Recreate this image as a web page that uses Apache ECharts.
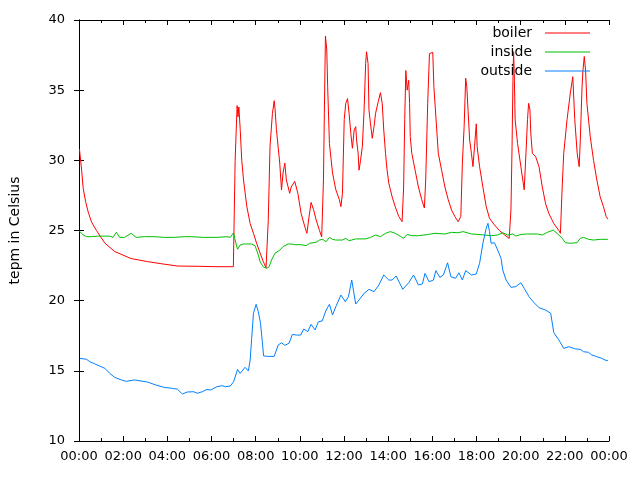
<!DOCTYPE html>
<html>
<head>
<meta charset="utf-8">
<script src="https://cdn.jsdelivr.net/npm/echarts@6/dist/echarts.min.js"></script>
<style>
html,body{margin:0;padding:0;background:#fff;}
#chart{width:640px;height:480px;}
</style>
</head>
<body>
<div id="chart"></div>
<script>
// x values are hours of the day (0..24)
const xTicks = [0,2,4,6,8,10,12,14,16,18,20,22,24];
const yTicks = [10,15,20,25,30,35,40];
const seriesNames = ['boiler','inside','outside'];

const boiler = [
[0.02,30.8],[0.12,29.3],[0.19,28.0],[0.30,27.05],[0.42,26.3],[0.57,25.6],[0.79,25.0],[1.17,24.1],[1.62,23.5],[2.36,23.0],[3.11,22.78],[3.86,22.6],[4.45,22.47],[5.35,22.45],[6.25,22.42],[6.99,22.42],
[7.07,30.0],[7.16,33.9],[7.20,33.1],[7.24,33.8],[7.30,32.2],[7.37,30.0],[7.45,28.6],[7.60,26.7],[7.75,25.5],[7.90,24.8],[8.04,24.1],[8.20,23.4],[8.34,22.8],[8.47,22.35],
[8.57,25.7],[8.65,31.0],[8.76,33.35],[8.84,34.25],[8.88,33.6],[8.94,32.2],[9.09,29.8],[9.17,27.9],[9.24,29.1],[9.32,29.8],[9.39,28.6],[9.47,28.1],[9.54,27.65],[9.61,28.1],[9.77,28.5],[9.84,28.6],[9.91,27.65],[10.06,26.2],[10.22,25.3],[10.32,24.8],[10.41,25.9],[10.51,27.0],[10.62,26.5],[10.74,25.75],[10.89,25.0],[10.99,24.55],
[11.07,28.6],[11.11,33.35],[11.16,38.86],[11.22,37.86],[11.26,35.25],[11.34,31.2],[11.48,29.1],[11.63,27.9],[11.79,27.2],[11.86,26.7],[11.93,27.65],[12.01,32.9],[12.08,34.06],[12.16,34.4],[12.23,33.35],[12.31,31.9],[12.38,30.86],[12.46,32.16],[12.53,32.4],[12.57,31.45],[12.64,30.5],[12.68,29.3],[12.75,30.0],[12.83,30.97],
[12.91,33.6],[12.98,36.9],[13.02,37.74],[13.09,36.9],[13.13,33.6],[13.20,32.6],[13.28,31.57],[13.36,32.4],[13.43,33.35],[13.55,34.18],[13.65,34.82],[13.73,34.06],[13.80,32.16],[13.88,30.5],[13.95,29.3],[14.03,28.36],[14.18,27.4],[14.32,26.7],[14.48,26.0],[14.63,25.63],
[14.70,28.1],[14.75,32.9],[14.80,36.4],[14.86,35.0],[14.93,35.7],[14.97,34.06],[15.00,31.7],[15.07,30.5],[15.22,29.3],[15.37,28.1],[15.52,27.2],[15.64,26.6],[15.70,28.6],[15.79,34.06],[15.87,37.6],[16.02,37.7],[16.07,35.25],[16.20,32.16],[16.27,30.5],[16.42,29.3],[16.57,28.1],[16.72,27.2],[16.87,26.46],[17.02,26.0],[17.17,25.63],
[17.29,26.0],[17.36,29.8],[17.44,32.4],[17.51,35.85],[17.56,35.25],[17.62,33.5],[17.69,31.45],[17.77,30.5],[17.84,29.55],[17.91,30.97],[17.99,32.6],[18.03,30.97],[18.14,29.55],[18.29,28.1],[18.44,26.7],[18.59,25.87],[18.81,25.4],[19.04,25.0],[19.26,24.7],[19.48,24.44],
[19.56,26.46],[19.61,30.97],[19.65,35.7],[19.68,37.74],[19.71,36.2],[19.75,32.9],[19.86,31.2],[20.01,29.55],[20.16,27.9],[20.24,30.5],[20.31,32.9],[20.36,34.06],[20.42,33.6],[20.46,31.9],[20.53,30.5],[20.68,30.26],[20.83,29.55],[20.98,28.1],[21.13,26.9],[21.28,26.2],[21.50,25.5],[21.73,25.0],[21.80,24.8],
[21.88,28.1],[21.95,30.5],[22.10,32.9],[22.25,34.8],[22.36,35.96],[22.45,32.9],[22.56,30.5],[22.65,29.55],[22.70,31.45],[22.78,35.25],[22.82,36.4],[22.88,37.4],[22.94,36.4],[23.00,34.06],[23.15,31.7],[23.30,30.0],[23.45,28.6],[23.60,27.4],[23.75,26.7],[23.87,26.0],[23.95,25.8]
];

const inside = [
[0.02,24.95],[0.19,24.68],[0.34,24.56],[0.57,24.56],[0.87,24.6],[1.39,24.6],[1.54,24.51],[1.69,24.87],[1.84,24.51],[2.06,24.51],[2.36,24.8],[2.59,24.51],[2.96,24.56],[3.41,24.56],[3.86,24.51],[4.31,24.51],[4.76,24.56],[5.06,24.56],[5.65,24.51],[6.25,24.51],[6.70,24.56],[6.85,24.51],
[7.00,24.84],[7.07,24.32],[7.18,23.66],[7.30,23.97],[7.45,24.04],[7.60,24.04],[7.82,24.04],[7.97,23.92],[8.04,23.61],[8.12,23.25],[8.20,22.78],[8.34,22.42],[8.49,22.3],[8.61,22.42],[8.72,22.9],[8.87,23.37],[9.09,23.6],[9.24,23.85],[9.47,24.04],[9.61,24.04],[9.77,23.99],[10.06,23.99],[10.29,23.92],[10.44,24.09],[10.74,24.16],[10.89,24.32],[11.04,24.37],
[11.19,24.2],[11.34,24.51],[11.48,24.37],[11.63,24.32],[11.93,24.32],[12.08,24.44],[12.23,24.27],[12.53,24.4],[12.98,24.4],[13.20,24.51],[13.43,24.68],[13.65,24.56],[13.88,24.8],[14.10,24.92],[14.32,24.8],[14.54,24.6],[14.70,24.44],[14.86,24.72],[15.07,24.63],[15.37,24.63],[15.82,24.72],[16.12,24.8],[16.57,24.75],[16.87,24.87],[17.17,24.84],[17.40,24.92],[17.77,24.75],[18.07,24.72],
[18.66,24.63],[18.96,24.68],[19.19,24.84],[19.41,24.68],[19.64,24.75],[19.78,24.6],[20.01,24.72],[20.31,24.75],[20.76,24.75],[20.98,24.68],[21.21,24.87],[21.48,25.03],[21.73,24.68],[21.88,24.44],[22.03,24.13],[22.25,24.09],[22.55,24.13],[22.70,24.44],[22.85,24.51],[23.07,24.37],[23.30,24.32],[23.60,24.37],[23.95,24.37]
];

const outside = [
[0.04,15.89],[0.34,15.82],[0.49,15.65],[0.72,15.49],[0.94,15.34],[1.17,15.18],[1.39,14.82],[1.62,14.53],[1.92,14.35],[2.14,14.25],[2.51,14.35],[3.11,14.2],[3.48,13.99],[3.86,13.82],[4.23,13.75],[4.45,13.7],[4.68,13.35],[4.90,13.49],[5.20,13.51],[5.35,13.4],[5.58,13.51],[5.80,13.68],[5.95,13.63],[6.25,13.87],[6.47,13.94],[6.63,13.87],[6.85,13.92],
[7.00,14.22],[7.18,15.1],[7.30,14.82],[7.52,15.25],[7.67,14.99],[7.75,15.77],[7.82,17.32],[7.90,19.1],[8.02,19.74],[8.12,19.21],[8.22,18.39],[8.30,17.08],[8.36,16.06],[8.57,16.03],[8.84,16.03],[9.02,16.84],[9.17,17.0],[9.32,16.82],[9.51,16.96],[9.66,17.6],[9.84,17.55],[10.04,17.55],[10.18,17.98],[10.36,17.79],[10.51,18.31],[10.69,17.91],[10.84,18.5],[11.01,18.55],
[11.19,19.33],[11.34,19.74],[11.48,18.98],[11.63,19.57],[11.86,20.4],[12.06,19.93],[12.20,20.28],[12.35,21.47],[12.53,19.76],[12.68,20.05],[12.91,20.52],[13.13,20.81],[13.36,20.64],[13.58,21.12],[13.80,21.83],[14.03,21.47],[14.18,21.47],[14.36,21.76],[14.66,20.81],[14.93,21.28],[15.15,21.83],[15.37,21.12],[15.55,21.19],[15.67,21.95],[15.85,21.35],[16.05,21.47],[16.16,22.14],[16.34,21.66],[16.50,21.83],[16.69,22.7],[16.84,21.71],[17.05,21.59],[17.20,21.99],[17.36,21.47],[17.51,22.14],[17.77,21.83],[17.99,21.9],
[18.14,22.66],[18.29,24.09],[18.44,25.15],[18.52,25.51],[18.59,24.92],[18.66,24.09],[18.81,24.13],[18.96,23.61],[19.11,23.02],[19.19,22.18],[19.34,21.47],[19.56,20.95],[19.78,21.0],[20.01,21.28],[20.16,20.88],[20.38,20.28],[20.61,19.85],[20.83,19.5],[21.13,19.33],[21.36,19.1],[21.50,17.72],[21.73,17.2],[21.95,16.6],[22.18,16.72],[22.48,16.56],[22.70,16.53],[22.85,16.36],[23.07,16.32],[23.22,16.13],[23.45,16.01],[23.67,15.89],[23.82,15.77],[23.95,15.72]
];

const colors = ['#ff0000','#00c000','#0080ff'];
const FONT = 'DejaVu Sans';

function fmtHour(v){
  const h = Math.round(v) % 24;
  return (h < 10 ? '0' : '') + h + ':00';
}

const chart = echarts.init(document.getElementById('chart'), null, {renderer:'canvas'});

const baseX = {
  type:'value', min:xTicks[0], max:xTicks[xTicks.length-1], interval:2,
  axisLine:{show:true, lineStyle:{color:'#000', width:1}},
  axisTick:{show:true, inside:true, length:5, lineStyle:{color:'#000'}},
  minorTick:{show:true, splitNumber:2, length:3, lineStyle:{color:'#000'}},
  splitLine:{show:false}
};
const baseY = {
  type:'value', min:yTicks[0], max:yTicks[yTicks.length-1], interval:5,
  axisLine:{show:true, lineStyle:{color:'#000', width:1}},
  axisTick:{show:true, inside:true, length:5, lineStyle:{color:'#000'}},
  splitLine:{show:false}
};

const option = {
  animation:false,
  backgroundColor:'#fff',
  grid:{left:74, right:31, top:20, bottom:39, containLabel:false},
  legend:{
    data:seriesNames.map(function(n){ return {name:n, icon:'rect'}; }),
    orient:'vertical',
    right:50, top:26, padding:0,
    align:'right',
    itemWidth:45, itemHeight:1, itemGap:5,
    textStyle:{fontFamily:FONT, fontSize:14, color:'#000', padding:[0,8,0,0]},
    inactiveColor:'#ccc'
  },
  xAxis:[
    Object.assign({}, baseX, {position:'bottom',
      axisLabel:{show:true, margin:9, fontFamily:FONT, fontSize:13, color:'#000', formatter:fmtHour}}),
    Object.assign({}, baseX, {position:'top', axisLabel:{show:false}})
  ],
  yAxis:[
    Object.assign({}, baseY, {position:'left',
      name:'tepm in Celsius', nameLocation:'middle', nameGap:57, nameRotate:90,
      nameTextStyle:{fontFamily:FONT, fontSize:14, color:'#000'},
      axisLabel:{show:true, margin:14, fontFamily:FONT, fontSize:13, color:'#000'}}),
    Object.assign({}, baseY, {position:'right', axisLabel:{show:false}})
  ],
  series:[
    {name:seriesNames[0], type:'line', data:boiler, symbol:'none', color:colors[0], lineStyle:{width:1, color:colors[0]}, xAxisIndex:0, yAxisIndex:0},
    {name:seriesNames[1], type:'line', data:inside, symbol:'none', color:colors[1], lineStyle:{width:1, color:colors[1]}, xAxisIndex:0, yAxisIndex:0},
    {name:seriesNames[2], type:'line', data:outside, symbol:'none', color:colors[2], lineStyle:{width:1, color:colors[2]}, xAxisIndex:0, yAxisIndex:0}
  ]
};
chart.setOption(option);
</script>
</body>
</html>
